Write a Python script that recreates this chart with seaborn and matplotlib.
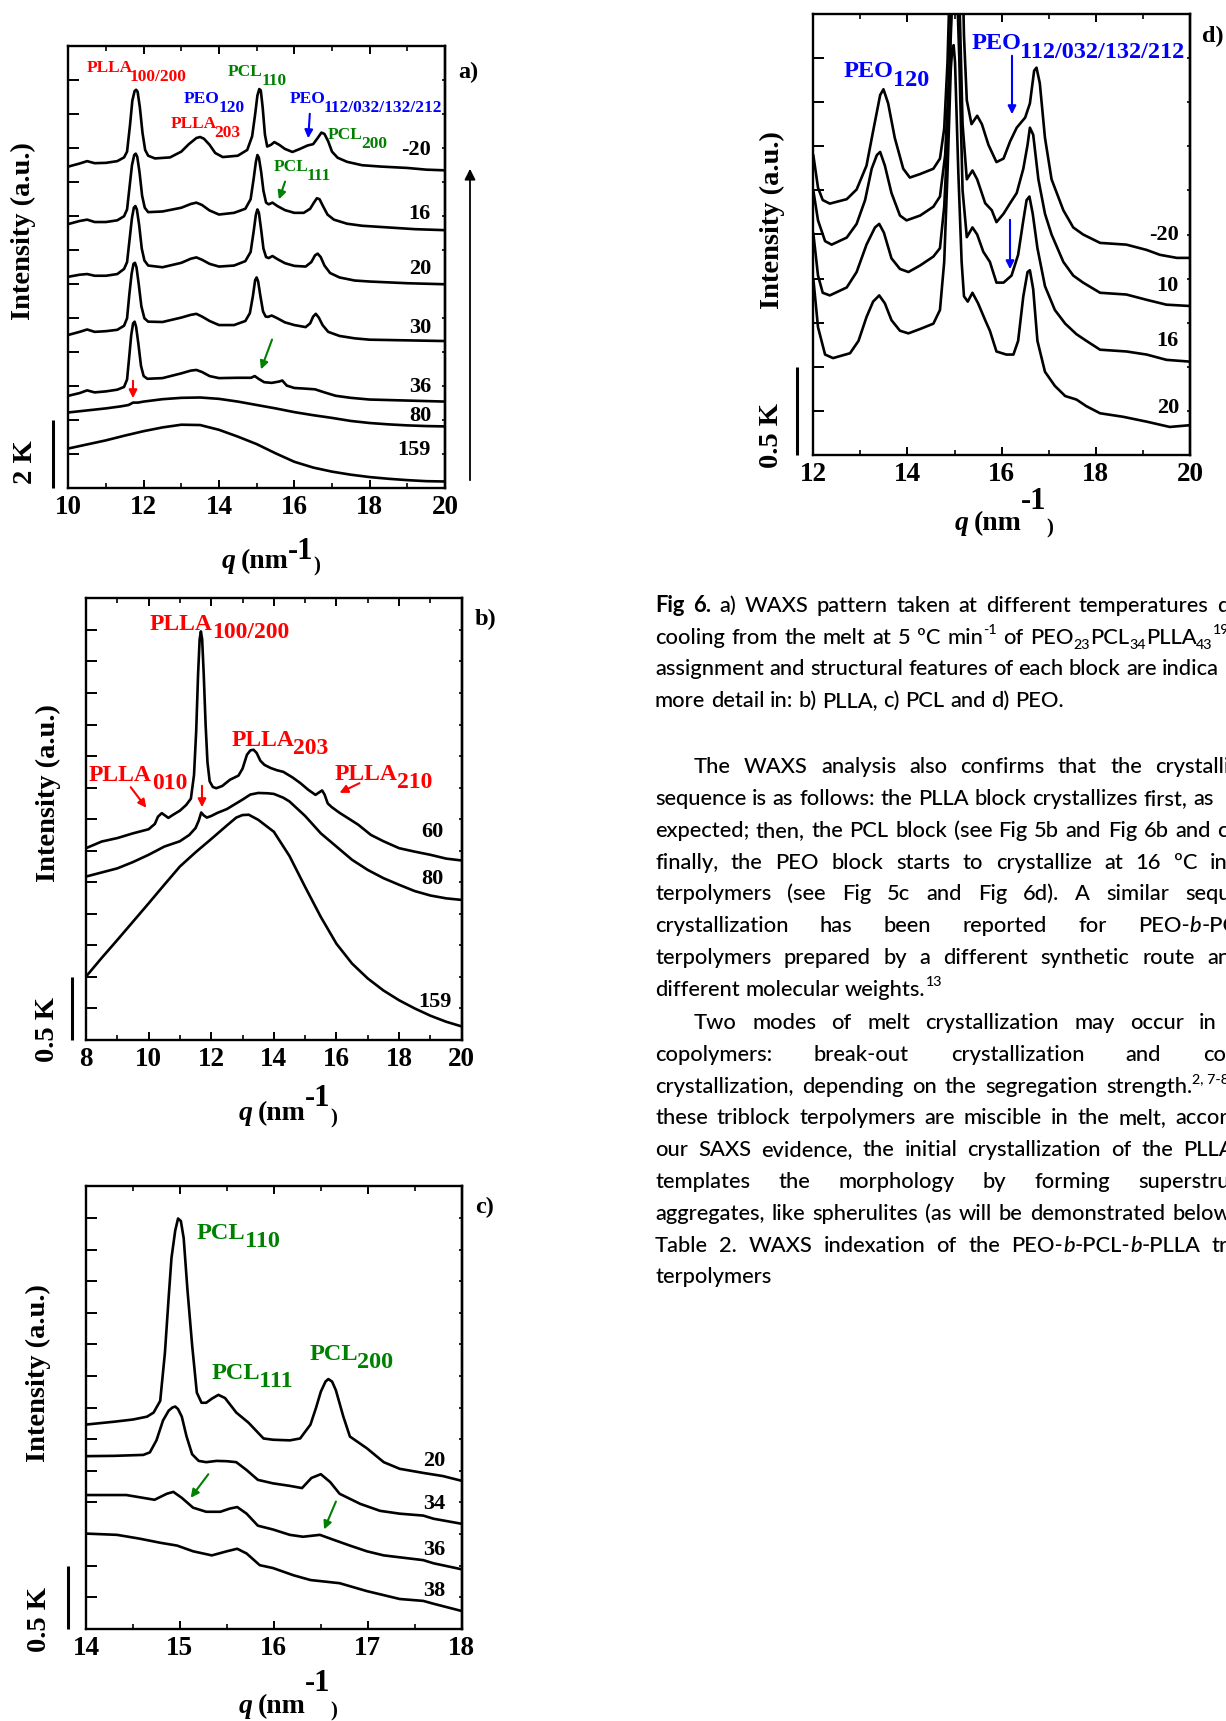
import matplotlib
matplotlib.use("Agg")
import matplotlib.pyplot as plt
import seaborn as sns
from matplotlib.ticker import MultipleLocator
from matplotlib.transforms import blended_transform_factory
from matplotlib.patches import FancyArrowPatch

# ------------------------------------------------------------------ data
# intensities are offset curves, in units of one y-tick spacing
# panel a) (1 tick = 1 K), temperatures in C
temps_a = ["-20", "16", "20", "30", "36", "80", "159"]
qa_m20 = [10.0,10.3,10.5,10.7,11.0,11.3,11.48,11.56,11.64,11.7,11.76,11.8,11.84,11.9,11.97,12.04,12.12,12.3,12.7,13.0,13.2,13.4,13.5,13.6,13.75,13.9,14.1,14.5,14.75,14.88,14.96,15.02,15.07,15.11,15.16,15.22,15.28,15.38,15.47,15.6,15.75,15.95,16.15,16.35,16.5,16.62,16.72,16.8,16.9,17.0,17.15,17.4,17.8,18.3,19.0,19.5,20.0]
ia_m20 = [9.46,9.55,9.62,9.56,9.57,9.62,9.73,9.9,10.7,11.4,11.68,11.72,11.66,11.2,10.45,9.95,9.78,9.7,9.73,9.9,10.12,10.3,10.33,10.28,10.1,9.86,9.74,9.78,9.95,10.35,11.0,11.55,11.74,11.7,11.2,10.4,10.05,10.1,10.18,10.1,9.98,9.89,9.98,10.08,10.12,10.3,10.46,10.42,10.2,9.9,9.72,9.6,9.5,9.46,9.42,9.37,9.35]
qa_16 = [10.0,10.3,10.5,10.7,11.0,11.3,11.48,11.56,11.63,11.69,11.75,11.79,11.83,11.89,11.96,12.03,12.12,12.5,13.0,13.25,13.4,13.55,13.75,14.0,14.4,14.7,14.84,14.92,14.98,15.02,15.06,15.12,15.18,15.25,15.32,15.42,15.55,15.75,16.0,16.25,16.42,16.52,16.6,16.67,16.76,16.88,17.05,17.4,17.8,18.5,19.2,20.0]
ia_16 = [7.77,7.86,7.9,7.83,7.83,7.88,8.0,8.2,8.9,9.5,9.8,9.84,9.75,9.3,8.6,8.25,8.12,8.14,8.25,8.36,8.4,8.33,8.17,8.05,8.1,8.22,8.5,9.1,9.6,9.8,9.72,9.3,8.75,8.4,8.35,8.4,8.3,8.18,8.1,8.1,8.22,8.4,8.53,8.5,8.3,8.05,7.9,7.78,7.72,7.67,7.62,7.59]
qa_20 = [10.0,10.3,10.5,10.7,11.0,11.3,11.48,11.56,11.63,11.69,11.74,11.78,11.82,11.88,11.95,12.02,12.12,12.5,13.0,13.25,13.4,13.55,13.75,14.0,14.4,14.7,14.84,14.92,14.98,15.02,15.06,15.12,15.18,15.25,15.32,15.42,15.55,15.75,16.0,16.3,16.45,16.55,16.62,16.7,16.8,16.95,17.2,17.6,18.0,19.0,20.0]
ia_20 = [6.22,6.28,6.3,6.25,6.25,6.3,6.45,6.65,7.35,7.95,8.25,8.3,8.2,7.75,7.05,6.7,6.55,6.5,6.63,6.75,6.79,6.72,6.6,6.52,6.55,6.68,6.95,7.55,8.05,8.2,8.1,7.6,7.05,6.8,6.77,6.83,6.74,6.62,6.54,6.52,6.65,6.85,6.9,6.8,6.55,6.33,6.2,6.11,6.08,6.03,6.0]
qa_30 = [10.0,10.3,10.5,10.7,11.0,11.3,11.48,11.56,11.62,11.68,11.73,11.77,11.81,11.87,11.94,12.02,12.12,12.5,13.0,13.25,13.4,13.55,13.75,14.0,14.4,14.7,14.82,14.9,14.96,15.0,15.04,15.1,15.17,15.24,15.3,15.4,15.55,15.75,16.0,16.3,16.42,16.5,16.57,16.65,16.75,16.9,17.2,17.6,18.0,19.0,20.0]
ia_30 = [4.51,4.6,4.67,4.6,4.62,4.66,4.78,5.0,5.7,6.3,6.6,6.63,6.5,6.0,5.35,5.0,4.9,4.89,5.02,5.1,5.13,5.05,4.92,4.8,4.8,4.92,5.15,5.65,6.12,6.2,6.08,5.65,5.2,5.05,5.04,5.08,5.0,4.88,4.8,4.74,4.85,5.05,5.13,5.02,4.8,4.6,4.48,4.41,4.37,4.35,4.33]
qa_36 = [10.0,10.3,10.5,10.7,11.0,11.3,11.48,11.56,11.62,11.67,11.72,11.76,11.8,11.86,11.93,12.0,12.1,12.5,13.0,13.25,13.4,13.55,13.75,14.0,14.5,14.85,14.95,15.05,15.2,15.4,15.6,15.68,15.8,16.0,16.3,16.55,16.8,17.1,17.5,18.0,19.0,20.0]
ia_36 = [2.72,2.8,2.88,2.82,2.85,2.9,2.98,3.2,3.9,4.5,4.85,4.9,4.75,4.25,3.6,3.3,3.22,3.24,3.38,3.46,3.48,3.42,3.3,3.24,3.25,3.25,3.3,3.22,3.12,3.1,3.14,3.17,3.02,2.95,2.93,2.91,2.82,2.72,2.66,2.61,2.58,2.55]
qa_80 = [10.0,10.5,11.0,11.4,11.6,11.72,11.85,12.0,12.5,13.0,13.5,14.0,14.5,15.0,15.5,16.0,16.5,17.0,17.5,18.0,18.5,19.0,19.5,20.0]
ia_80 = [2.23,2.29,2.35,2.41,2.45,2.52,2.52,2.55,2.62,2.66,2.67,2.63,2.55,2.45,2.35,2.24,2.15,2.07,1.98,1.92,1.88,1.85,1.83,1.82]
qa_159 = [10.0,10.5,11.0,11.5,12.0,12.5,13.0,13.5,14.0,14.5,15.0,15.5,16.0,16.5,17.0,17.5,18.0,18.5,19.0,19.5,20.0]
ia_159 = [1.17,1.29,1.41,1.55,1.68,1.79,1.87,1.86,1.72,1.52,1.3,1.03,0.78,0.61,0.49,0.4,0.33,0.28,0.24,0.21,0.2]

# panel b) PLLA (1 tick = 0.25 K)
temps_b = ["60", "80", "159"]
qb_60 = [8.0,8.5,9.0,9.5,10.0,10.2,10.3,10.42,10.52,10.63,10.8,11.0,11.2,11.35,11.45,11.52,11.58,11.63,11.67,11.71,11.76,11.82,11.88,11.95,12.05,12.16,12.35,12.6,12.87,13.0,13.14,13.25,13.35,13.45,13.57,13.7,13.9,14.1,14.3,14.6,14.85,15.1,15.33,15.45,15.54,15.62,15.72,15.85,16.1,16.45,16.7,17.1,17.5,18.0,18.5,19.0,19.5,20.0]
ib_60 = [6.08,6.29,6.4,6.55,6.68,6.85,7.08,7.19,7.12,7.04,7.15,7.27,7.45,7.65,8.4,9.8,11.6,12.7,12.95,12.7,11.6,10.0,8.8,8.2,8.02,7.98,8.05,8.25,8.38,8.6,9.04,9.18,9.2,9.1,8.85,8.72,8.62,8.55,8.5,8.32,8.14,7.93,7.77,7.85,7.91,7.78,7.5,7.38,7.2,6.98,6.82,6.5,6.3,6.08,5.97,5.87,5.75,5.69]
qb_80 = [8.0,8.5,9.0,9.5,10.0,10.5,11.0,11.3,11.5,11.6,11.68,11.76,11.86,12.0,12.2,12.5,13.0,13.25,13.5,13.8,14.0,14.3,14.5,15.0,15.5,16.0,16.5,17.0,17.5,18.0,18.5,19.0,19.5,20.0]
ib_80 = [5.18,5.31,5.44,5.64,5.87,6.13,6.3,6.5,6.72,6.95,7.21,7.12,7.05,7.1,7.2,7.32,7.62,7.78,7.83,7.82,7.8,7.68,7.56,7.1,6.55,6.13,5.71,5.39,5.13,4.92,4.72,4.58,4.49,4.44]
qb_159 = [8.0,8.5,9.0,9.5,10.0,10.5,11.0,11.5,12.0,12.5,12.8,13.0,13.2,13.5,14.0,14.5,15.0,15.5,16.0,16.5,17.0,17.5,18.0,18.5,19.0,19.5,20.0]
ib_159 = [2.01,2.6,3.17,3.75,4.33,4.92,5.5,5.95,6.37,6.8,7.05,7.13,7.14,6.98,6.6,5.83,4.85,3.9,3.05,2.42,1.95,1.57,1.26,1.0,0.77,0.58,0.43]

# panel c) PCL (1 tick = 0.25 K)
temps_c = ["20", "34", "36", "38"]
qc_20 = [14.0,14.3,14.5,14.65,14.72,14.79,14.84,14.88,14.91,14.95,14.98,15.01,15.04,15.08,15.13,15.18,15.23,15.28,15.34,15.41,15.48,15.6,15.73,15.89,15.99,16.17,16.28,16.39,16.45,16.5,16.55,16.58,16.62,16.66,16.74,16.81,16.99,17.17,17.34,17.59,17.8,18.0]
ic_20 = [6.46,6.55,6.62,6.71,6.84,7.21,8.72,10.48,11.73,12.6,12.98,12.9,12.36,10.73,8.97,7.47,7.15,7.15,7.28,7.4,7.3,6.84,6.52,6.02,5.98,5.96,6.02,6.46,7.0,7.5,7.82,7.9,7.82,7.55,6.71,6.08,5.71,5.27,5.06,4.93,4.83,4.68]
qc_34 = [14.0,14.3,14.61,14.68,14.75,14.82,14.88,14.92,14.95,14.98,15.02,15.07,15.13,15.2,15.28,15.39,15.5,15.6,15.71,15.83,15.99,16.17,16.3,16.4,16.5,16.6,16.7,16.92,17.13,17.34,17.59,17.7,18.0]
ic_34 = [5.46,5.47,5.5,5.58,5.96,6.59,6.9,7.0,7.03,6.95,6.71,6.09,5.52,5.31,5.27,5.31,5.3,5.27,5.02,4.71,4.6,4.52,4.45,4.77,4.89,4.64,4.27,3.95,3.73,3.64,3.58,3.48,3.32]
qc_36 = [14.0,14.43,14.61,14.73,14.86,14.93,15.02,15.14,15.28,15.43,15.53,15.61,15.71,15.83,15.99,16.17,16.31,16.49,16.63,16.81,16.99,17.17,17.59,17.7,18.0]
ic_36 = [4.23,4.23,4.14,4.08,4.27,4.33,4.14,3.83,3.7,3.7,3.8,3.85,3.64,3.26,3.14,2.97,2.91,2.97,2.82,2.63,2.45,2.32,2.17,2.07,1.88]
qc_38 = [14.0,14.33,14.57,14.79,14.97,15.14,15.34,15.5,15.61,15.71,15.85,15.99,16.21,16.39,16.7,16.99,17.34,17.59,17.7,18.0]
ic_38 = [3.01,2.97,2.85,2.72,2.63,2.45,2.32,2.45,2.53,2.38,2.01,1.92,1.69,1.54,1.44,1.19,0.94,0.88,0.79,0.56]

# panel d) PEO (1 tick = 0.25 K)
temps_d = ["-20", "10", "16", "20"]
qd_m20 = [12.0,12.1,12.2,12.35,12.71,12.92,13.13,13.27,13.42,13.49,13.59,13.73,13.91,14.05,14.27,14.55,14.69,14.78,14.85,14.92,15.0,15.08,15.15,15.2,15.26,15.36,15.48,15.58,15.72,15.89,16.04,16.18,16.32,16.5,16.6,16.69,16.74,16.81,16.92,17.06,17.31,17.52,17.73,18.09,18.65,19.08,19.36,19.72,20.0]
id_m20 = [6.8,6.06,5.78,5.7,5.8,6.02,6.56,7.34,8.16,8.29,7.97,7.19,6.49,6.29,6.37,6.49,6.72,7.4,8.9,11.5,14.0,14.5,12.0,9.5,8.04,7.5,7.69,7.5,7.03,6.64,6.72,7.11,7.42,7.65,7.97,8.71,8.78,8.43,7.19,6.25,5.55,5.16,5.0,4.81,4.77,4.65,4.54,4.47,4.47]
qd_10 = [12.0,12.1,12.25,12.39,12.71,12.92,13.1,13.24,13.35,13.42,13.52,13.66,13.84,13.98,14.27,14.55,14.69,14.8,14.89,14.95,15.02,15.1,15.17,15.26,15.38,15.48,15.65,15.79,15.89,16.04,16.18,16.32,16.46,16.55,16.6,16.67,16.78,16.92,17.06,17.31,17.52,17.73,18.09,18.65,19.08,19.5,20.0]
id_10 = [6.0,5.32,4.85,4.77,4.93,5.24,5.78,6.49,6.8,6.87,6.56,5.94,5.43,5.32,5.43,5.63,5.86,6.8,8.75,10.8,12.0,10.5,7.5,6.25,6.45,6.25,5.71,5.55,5.28,5.47,5.71,5.94,6.49,7.03,7.42,7.26,6.25,5.47,5.0,4.38,4.07,3.91,3.68,3.64,3.52,3.41,3.38]
qd_16 = [12.0,12.1,12.2,12.35,12.71,12.92,13.13,13.31,13.4,13.5,13.66,13.84,14.02,14.27,14.55,14.69,14.78,14.85,14.92,14.98,15.04,15.1,15.17,15.26,15.38,15.48,15.61,15.75,15.89,16.04,16.21,16.35,16.46,16.53,16.59,16.66,16.76,16.92,17.13,17.35,17.59,17.8,18.09,18.65,19.08,19.5,20.0]
id_16 = [5.03,4.07,3.68,3.62,3.8,4.15,4.77,5.16,5.24,5.04,4.46,4.22,4.15,4.3,4.5,4.69,5.63,7.19,9.5,11.2,11.0,9.0,6.0,4.94,5.16,5.0,4.61,4.38,3.91,3.91,4.07,4.54,5.32,5.78,5.86,5.47,4.69,3.83,3.29,2.98,2.74,2.59,2.39,2.35,2.28,2.16,2.12]
qd_20 = [12.0,12.1,12.25,12.42,12.78,12.96,13.13,13.27,13.4,13.52,13.66,13.84,14.02,14.27,14.55,14.69,14.78,14.85,14.92,14.95,14.98,15.01,15.08,15.15,15.2,15.28,15.38,15.5,15.65,15.75,15.89,16.1,16.25,16.35,16.46,16.55,16.6,16.67,16.76,16.92,17.13,17.35,17.59,17.8,18.09,18.58,19.08,19.57,20.0]
id_20 = [4.0,2.9,2.28,2.2,2.31,2.59,3.13,3.48,3.62,3.44,3.06,2.82,2.76,2.86,2.98,3.29,4.38,6.4,8.75,9.2,9.29,8.9,6.4,4.38,3.6,3.48,3.68,3.44,3.06,2.82,2.35,2.28,2.28,2.59,3.6,4.15,4.19,3.76,2.59,1.89,1.57,1.34,1.26,1.11,0.95,0.87,0.76,0.64,0.68]

# ------------------------------------------------------------------ style
sns.set_theme(style="ticks")
SERIF = ["Liberation Serif", "DejaVu Serif"]
SANS = ["Lato", "DejaVu Sans"]
plt.rcParams["font.family"] = SERIF
plt.rcParams["font.weight"] = "bold"

RED, GREEN, BLUE = "#ff0000", "#008000", "#0000ff"
W, H = 1226, 1721
fig = plt.figure(figsize=(W / 100, H / 100), dpi=100)
fig.patch.set_facecolor("white")
R = fig.canvas.get_renderer()
PT = 100 / 72.0


def fx(x):
    return x / W


def fy(y):
    return 1 - y / H


def txt(x, y, s, ha="left", va="baseline", **kw):
    kw.setdefault("family", SERIF)
    kw.setdefault("weight", "bold")
    kw.setdefault("color", "black")
    return fig.text(fx(x), fy(y), s, ha=ha, va=va, **kw)


def wid(t):
    return t.get_window_extent(renderer=R).width


def label_sub(x, cy, main, sub, color, size, drop, xsub):
    base = cy + 0.33 * size * PT
    txt(x, base, main, color=color, size=size)
    txt(xsub, base + drop, sub, color=color, size=size)


def arrow(x0, y0, x1, y1, color, lw=1.5, ms=12):
    fig.add_artist(FancyArrowPatch((fx(x0), fy(y0)), (fx(x1), fy(y1)),
                                   transform=fig.transFigure, arrowstyle="-|>",
                                   mutation_scale=ms, lw=lw, color=color))


def xlab(x, base, raise_):
    t = txt(x, base, "q", style="italic", size=20)
    x += wid(t) + 5
    t = txt(x, base, "(nm", size=20)
    x += wid(t) - 1
    t = txt(x, base - raise_, "-1", size=22)
    x += wid(t)
    txt(x, base + 3, ")", size=15)


def temp_label(xr, cy, s):
    txt(xr, cy + 0.33 * 16 * PT, s, ha="right", size=16)


def make_panel(rect, xlim, ytop, xmaj, xmin_, curves, bar_x, bar_label, bar_xy, ylab_xy):
    l, t, r, b = rect
    ax = fig.add_axes([fx(l), fy(b), (r - l) / W, (b - t) / H])
    for q, i in curves:
        sns.lineplot(x=q, y=i, ax=ax, color="black", linewidth=1.9,
                     estimator=None, sort=False, legend=False)
    ax.set_xlim(*xlim)
    ax.set_ylim(0, ytop)
    ax.xaxis.set_major_locator(MultipleLocator(xmaj))
    ax.xaxis.set_minor_locator(MultipleLocator(xmin_))
    ax.set_yticks(range(1, ytop))
    ax.set_xlabel("")
    ax.set_ylabel("")
    ax.set_facecolor("white")
    ax.tick_params(axis="y", which="major", direction="in", length=8, width=1.4,
                   left=True, right=False, labelleft=False, color="black")
    ax.tick_params(axis="x", which="major", direction="in", length=5.5, width=1.4,
                   top=True, bottom=True, labelsize=19.5, pad=5, color="black",
                   labelcolor="black")
    ax.tick_params(axis="x", which="minor", direction="in", length=3.5, width=1.2,
                   top=True, bottom=True, color="black")
    for lab in ax.get_xticklabels():
        lab.set_fontweight("bold")
        lab.set_family(SERIF)
    for s in ax.spines.values():
        s.set_linewidth(1.7)
        s.set_color("black")
    sec = ax.secondary_yaxis("right")
    sec.set_yticks(range(1, ytop))
    sec.tick_params(direction="in", length=2.5, width=1.2, labelright=False, color="black")
    sec.spines["right"].set_linewidth(1.7)
    sec.spines["right"].set_color("black")
    # intensity scale bar
    xa = (bar_x - l) / (r - l)
    ax.plot([xa, xa], [0, 2], transform=blended_transform_factory(ax.transAxes, ax.transData),
            color="black", lw=2.2, clip_on=False, solid_capstyle="butt")
    txt(bar_xy[0], bar_xy[1], bar_label, ha="center", va="center", rotation=90, size=20.5)
    txt(ylab_xy[0], ylab_xy[1], "Intensity (a.u.)", ha="center", va="center", rotation=90, size=20.5)
    return ax


# ------------------------------------------------------------------ panel a
make_panel((68.3, 46.2, 445, 488.3), (10, 20), 13, 2, 1,
           [(qa_m20, ia_m20), (qa_16, ia_16), (qa_20, ia_20), (qa_30, ia_30),
            (qa_36, ia_36), (qa_80, ia_80), (qa_159, ia_159)],
           53, "2 K", (25, 462), (23, 231))
for s, cy in zip(temps_a, [148, 211.6, 267, 325.5, 384.7, 414, 447.6]):
    temp_label(431, cy, s)
label_sub(87, 66.6, "PLLA", "100/200", RED, 12.5, 9, 130)
label_sub(228, 70.3, "PCL", "110", GREEN, 12.5, 9, 262)
label_sub(184, 96.9, "PEO", "120", BLUE, 12.5, 9, 219)
label_sub(171, 122, "PLLA", "203", RED, 12.5, 9, 214)
label_sub(290, 97, "PEO", "112/032/132/212", BLUE, 12.5, 9, 324)
label_sub(328, 133, "PCL", "200", GREEN, 12.5, 9, 361)
label_sub(274, 165, "PCL", "111", GREEN, 12.5, 9, 307)
arrow(310, 111, 308, 141, BLUE)
arrow(286, 179, 278, 202, GREEN)
arrow(273, 337, 260, 372, GREEN)
arrow(133, 378, 133, 401, RED)
arrow(470, 483, 470, 166, "black", lw=1.3, ms=16)
txt(458, 78, "a)", size=17.5)
xlab(222, 568, 9)

# ------------------------------------------------------------------ panel b
make_panel((86, 598.3, 461.7, 1040), (8, 20), 14, 2, 1,
           [(qb_60, ib_60), (qb_80, ib_80), (qb_159, ib_159)],
           72, "0.5 K", (47, 1029), (48, 793))
temp_label(443, 830, temps_b[0])
temp_label(443, 877, temps_b[1])
temp_label(452, 1000, temps_b[2])
label_sub(150, 622, "PLLA", "100/200", RED, 17, 8, 212)
label_sub(232, 738, "PLLA", "203", RED, 17, 8, 293)
label_sub(89, 773, "PLLA", "010", RED, 17, 8, 152)
label_sub(335, 772, "PLLA", "210", RED, 17, 8, 397)
arrow(129, 785, 148, 810, RED)
arrow(202, 783, 202, 810, RED)
arrow(362, 782, 337, 794, RED)
txt(475, 625, "b)", size=17.5)
xlab(239, 1120, 14)

# ------------------------------------------------------------------ panel c
make_panel((86, 1186.3, 461.7, 1628.7), (14, 18), 14, 1, 0.5,
           [(qc_20, ic_20), (qc_34, ic_34), (qc_36, ic_36), (qc_38, ic_38)],
           68, "0.5 K", (40, 1619), (38, 1373))
for s, cy in zip(temps_c, [1458.4, 1502, 1547.5, 1589]):
    temp_label(445, cy, s)
label_sub(197, 1230.7, "PCL", "110", GREEN, 17.5, 8, 245)
label_sub(212, 1371, "PCL", "111", GREEN, 17.5, 8, 259)
label_sub(310, 1351.5, "PCL", "200", GREEN, 17.5, 8, 357)
arrow(210, 1472, 189, 1500, GREEN)
arrow(337, 1499, 323, 1532, GREEN)
txt(475, 1213, "c)", size=17.5)
xlab(239, 1713, 22)

# ------------------------------------------------------------------ panel d
make_panel((813.3, 13.8, 1190, 455.2), (12, 20), 10, 2, 1,
           [(qd_m20, id_m20), (qd_10, id_10), (qd_16, id_16), (qd_20, id_20)],
           797, "0.5 K", (772, 436), (772, 220))
for s, cy in zip(temps_d, [232.4, 284, 339, 406]):
    temp_label(1179, cy, s)
label_sub(844, 69, "PEO", "120", BLUE, 17.5, 8.5, 893)
label_sub(972, 41.3, "PEO", "112/032/132/212", BLUE, 17.5, 8.5, 1020)
arrow(1012, 53, 1012, 117, BLUE)
arrow(1010, 217, 1010, 272, BLUE)
txt(1202, 42, "d)", size=17.5)
xlab(955, 530, 21)

# ------------------------------------------------------------------ caption / body text
def seg_kw(style, S):
    kw = dict(family=SANS, size=S, weight=500, color="black", style="normal")
    if style == "b":
        kw["weight"] = "bold"
    if style == "i":
        kw["style"] = "italic"
    if style in ("sub", "sup"):
        kw["size"] = S * 0.65
    return kw


def seg_dy(style, S):
    return {"sub": 0.22 * S * PT, "sup": -0.45 * S * PT}.get(style, 0.0)


def segs(w):
    return [(w, "n")] if isinstance(w, str) else w


def measure(w, S):
    total = 0.0
    for s, st in segs(w):
        t = fig.text(0, 0, s, **seg_kw(st, S))
        total += wid(t)
        t.remove()
    return total


def draw_word(x, base, w, S):
    for s, st in segs(w):
        t = fig.text(fx(x), fy(base + seg_dy(st, S)), s, va="baseline", ha="left", **seg_kw(st, S))
        x += wid(t)


def space_w(S):
    a = fig.text(0, 0, "n n", **seg_kw("n", S))
    b = fig.text(0, 0, "nn", **seg_kw("n", S))
    v = wid(a) - wid(b)
    a.remove()
    b.remove()
    return v


caption_lines = [
    ([[("Fig", "b")], [("6.", "b")], "a)", "WAXS", "pattern", "taken", "at", "different", "temperatures", "d"], 655, 605, 1217),
    (["cooling", "from", "the", "melt", "at", "5", "ºC", [("min", "n"), ("-1", "sup")], "of",
      [("PEO", "n"), ("23", "sub"), ("PCL", "n"), ("34", "sub"), ("PLLA", "n"), ("43", "sub"), ("19.9", "sup")]], 655, 637, 1030),
    ("assignment and structural features of each block are indica".split(), 655, 668, 1162),
    ("more detail in: b) PLLA, c) PCL and d) PEO.".split(), 655, 700, None),
    ("The WAXS analysis also confirms that the crystalli".split(), 694, 766, 1155),
    ("sequence is as follows: the PLLA block crystallizes first, as".split(), 655, 798, 1193),
    ("expected; then, the PCL block (see Fig 5b and Fig 6b and c".split(), 655, 830, 1217),
    ("finally, the PEO block starts to crystallize at 16 ºC in".split(), 655, 862, 1210),
    ("terpolymers (see Fig 5c and Fig 6d). A similar sequ".split(), 655, 893, 1185),
    ("crystallization has been reported for".split() + [[("PEO-", "n"), ("b", "i"), ("-PCL-", "n"), ("b", "i")]], 655, 925, 1138),
    ("terpolymers prepared by a different synthetic route and".split(), 655, 957, 1207),
    (["different", "molecular", [("weights.", "n"), ("13", "sup")]], 655, 989, None),
    ("Two modes of melt crystallization may occur in".split(), 694, 1022, 1199),
    ("copolymers: break-out crystallization and co".split(), 655, 1054, 1203),
    ("crystallization, depending on the segregation".split() + [[("strength.", "n"), ("2, 7-8", "sup")]], 655, 1086, 1106),
    ("these triblock terpolymers are miscible in the melt, accord".split(), 655, 1117, 1175),
    ("our SAXS evidence, the initial crystallization of the PLLA".split(), 655, 1149, 1183),
    ("templates the morphology by forming superstru".split(), 655, 1181, 1138),
    ("aggregates, like spherulites (as will be demonstrated below".split(), 655, 1213, 1172),
    ("Table 2. WAXS indexation of the".split() + [[("PEO-", "n"), ("b", "i"), ("-PCL-", "n"), ("b", "i"), ("-PLLA", "n")], "tr"], 655, 1245, 1212),
    (["terpolymers"], 655, 1276, None),
]

# font size chosen so the unjustified reference line spans the measured width
S0 = 13.0
ref_words = caption_lines[3][0]
nat = sum(measure(w, S0) for w in ref_words) + space_w(S0) * (len(ref_words) - 1)
S = S0 * 407.0 / nat
SP = space_w(S)

for words, xl, cy, xlast in caption_lines:
    base = cy + 0.33 * S * PT
    widths = [measure(w, S) for w in words]
    if xlast is None or len(words) < 2:
        gap = SP
    else:
        gap = (xlast - xl - sum(widths[:-1])) / (len(words) - 1)
    x = xl
    for w, wd in zip(words, widths):
        draw_word(x, base, w, S)
        x += wd + gap

fig.savefig("out.png", dpi=100, facecolor="white")
